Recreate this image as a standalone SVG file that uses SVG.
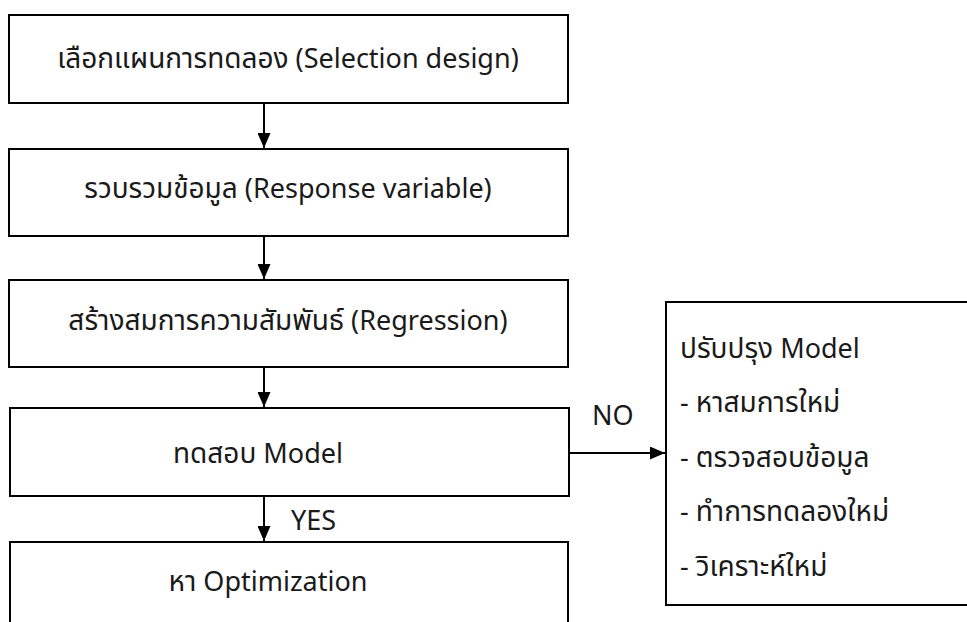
<svg xmlns="http://www.w3.org/2000/svg" width="967" height="622" viewBox="0 0 967 622">
  <style>
    .box { fill: #ffffff; stroke: #000000; stroke-width: 2; }
    .t { font-family: "Noto Sans", "Noto Sans Thai", "DejaVu Sans", sans-serif; font-size: 27px; fill: #1a1a1a; }
    .th { font-size: 28px; }
    .c { text-anchor: middle; }
    .conn { stroke: #000000; stroke-width: 2; fill: none; }
  </style>
  <defs>
    <marker id="arrowV" markerWidth="15" markerHeight="13" refX="15" refY="6.5" orient="auto" markerUnits="userSpaceOnUse">
      <path d="M0,0 L15,6.5 L0,13 Z" fill="#000000"/>
    </marker>
  </defs>
  <rect width="967" height="622" fill="#ffffff"/>

  <g id="node-select">
    <rect class="box" x="9" y="15" width="559" height="88"/>
    <text class="t c" x="288" y="68"><tspan class="th">เลือกแผนการทดลอง</tspan> (Selection design)</text>
  </g>
  <g id="node-collect">
    <rect class="box" x="9" y="149" width="559" height="87"/>
    <text class="t c" x="288" y="198"><tspan class="th">รวบรวมข้อมูล</tspan> (Response variable)</text>
  </g>
  <g id="node-regress">
    <rect class="box" x="9" y="280" width="559" height="87"/>
    <text class="t c" x="288" y="330"><tspan class="th">สร้างสมการความสัมพันธ์</tspan> (Regression)</text>
  </g>
  <g id="node-test">
    <rect class="box" x="10" y="408" width="559" height="88"/>
    <text class="t c" x="258" y="463"><tspan class="th">ทดสอบ</tspan> Model</text>
  </g>
  <g id="node-optimize">
    <rect class="box" x="10" y="542" width="558" height="90"/>
    <text class="t c" x="268" y="591"><tspan class="th">หา</tspan> Optimization</text>
  </g>
  <g id="node-improve">
    <rect class="box" x="666" y="302" width="310" height="303"/>
    <text class="t" x="680" y="358"><tspan class="th">ปรับปรุง</tspan> Model</text>
    <text class="t" x="680" y="412">- <tspan class="th">หาสมการใหม่</tspan></text>
    <text class="t" x="680" y="467">- <tspan class="th">ตรวจสอบข้อมูล</tspan></text>
    <text class="t" x="680" y="521">- <tspan class="th">ทำการทดลองใหม่</tspan></text>
    <text class="t" x="680" y="576">- <tspan class="th">วิเคราะห์ใหม่</tspan></text>
  </g>

  <g id="connectors">
    <line class="conn" x1="264" y1="103" x2="264" y2="148" marker-end="url(#arrowV)"/>
    <line class="conn" x1="264" y1="236" x2="264" y2="279" marker-end="url(#arrowV)"/>
    <line class="conn" x1="264" y1="367" x2="264" y2="407" marker-end="url(#arrowV)"/>
    <line class="conn" x1="264" y1="496" x2="264" y2="541" marker-end="url(#arrowV)"/>
    <line class="conn" x1="569" y1="453" x2="665" y2="453" marker-end="url(#arrowV)"/>
    <text class="t" x="291" y="530">YES</text>
    <text class="t" x="592" y="425">NO</text>
  </g>
</svg>
